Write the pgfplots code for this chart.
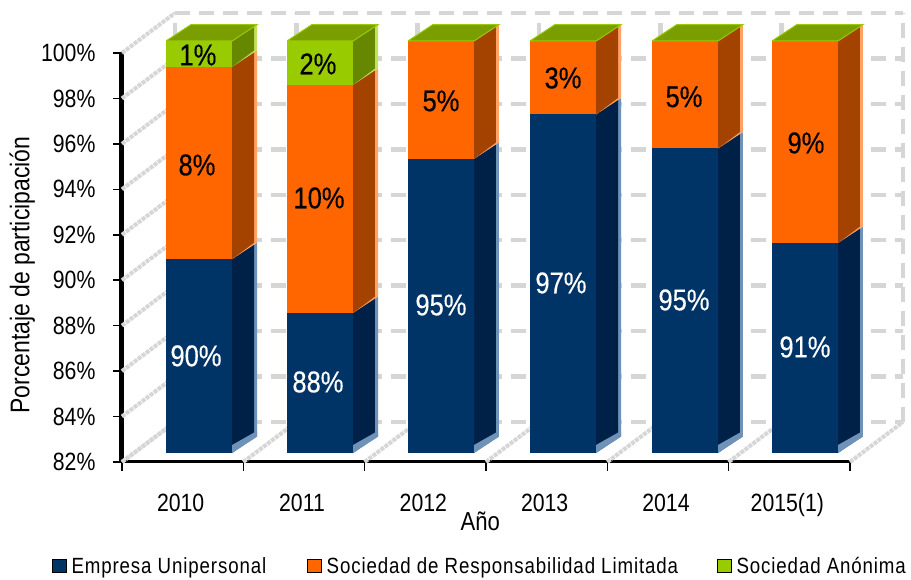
\documentclass[border=0pt]{standalone}
\usepackage{fontspec}
\setmainfont{Liberation Sans}
\newfontfamily\narrow[FakeStretch=0.85]{Liberation Sans}
\newfontfamily\narrowb[FakeStretch=0.85,FakeBold=0.4]{Liberation Sans}
\newfontfamily\legfont[FakeStretch=0.85,LetterSpace=4]{Liberation Sans}
\usepackage{pgfplots}
\pgfplotsset{compat=1.18}
\definecolor{nvF}{HTML}{003366}
\definecolor{nvS}{HTML}{002147}
\definecolor{nvE}{HTML}{6F93B8}
\definecolor{orF}{HTML}{FF6600}
\definecolor{orS}{HTML}{A44200}
\definecolor{orE}{HTML}{FFA366}
\definecolor{grF}{HTML}{99CC00}
\definecolor{grS}{HTML}{668800}
\definecolor{grE}{HTML}{C2E05A}
\definecolor{grT}{HTML}{7A9E00}
\definecolor{wallc}{HTML}{D6D6D6}

% bar geometry, axis units
\def\bw{0.545}
\def\dx{0.205}
\def\dy{0.72}

% #1 left edge, #2 bottom, #3 top, #4 colour prefix
\newcommand\seg[4]{%
  \pgfmathsetmacro\xR{#1+\bw}%
  \pgfmathsetmacro\xB{#1+\bw+\dx}%
  \pgfmathsetmacro\xC{#1+\bw+\dx-0.025}%
  \pgfmathsetmacro\yA{#2+\dy}%
  \pgfmathsetmacro\yB{#3+\dy}%
  \addplot[forget plot,fill=#4F,draw=none] coordinates {(#1,#2)(\xR,#2)(\xR,#3)(#1,#3)};
  \addplot[forget plot,fill=#4E,draw=none] coordinates {(\xR,#2)(\xB,\yA)(\xB,\yB)(\xR,#3)};
  \addplot[forget plot,fill=#4S,draw=none] coordinates {(\xR,#2)(\xC,\yA)(\xC,\yB)(\xR,#3)};
}
% lighter wedge at the foot of the side face
\newcommand\foot[2]{%
  \pgfmathsetmacro\xR{#1+\bw}%
  \pgfmathsetmacro\xB{#1+\bw+\dx}%
  \pgfmathsetmacro\yA{#2+\dy}%
  \pgfmathsetmacro\yB{#2+\dy+0.25}%
  \pgfmathsetmacro\yC{#2+0.35}%
  \addplot[forget plot,fill=nvE,draw=none] coordinates {(\xR,#2)(\xB,\yA)(\xB,\yB)(\xR,\yC)};
}
% top face
\newcommand\topf[2]{%
  \pgfmathsetmacro\xR{#1+\bw}%
  \pgfmathsetmacro\xA{#1+\dx}%
  \pgfmathsetmacro\xB{#1+\bw+\dx}%
  \pgfmathsetmacro\yB{#2+\dy}%
  \addplot[forget plot,fill=grT,draw=grF,line width=1pt] coordinates {(#1,#2)(\xR,#2)(\xB,\yB)(\xA,\yB)(#1,#2)};
}

\pgfplotstableread{
x     y      label
0.110 86.67  90\%
1.115 85.52  88\%
2.129 88.91  95\%
3.118 89.88  97\%
4.132 89.13  95\%
5.129 87.06  91\%
}\whitelabels
\pgfplotstableread{
x     y      label
0.118 95.07  8\%
0.126 99.91  1\%
1.124 93.62  10\%
1.115 99.52  2\%
2.129 97.89  5\%
3.135 98.90  3\%
4.132 98.07  5\%
5.137 96.04  9\%
}\blacklabels

\begin{document}
\begin{tikzpicture}[x=1pt,y=1pt]
\useasboundingbox (0,0) rectangle (911,580);
\begin{axis}[
  at={(122pt,118pt)},anchor=south west,
  scale only axis,width=728pt,height=409pt,
  xmin=-0.5,xmax=5.5,ymin=82,ymax=100,
  clip=false,enlargelimits=false,
  axis x line=bottom,axis y line=left,
  x axis line style={-,line width=3pt},
  y axis line style={-,line width=5pt},
  xtick={0,1,2,3,4,5},
  xticklabels={2010,2011,2012,2013,2014,2015(1)},
  minor xtick={-0.5,0.5,1.5,2.5,3.5,4.5,5.5},
  ytick={82,84,86,88,90,92,94,96,98,100},
  yticklabels={82\%,84\%,86\%,88\%,90\%,92\%,94\%,96\%,98\%,100\%},
  tick align=outside,
  major tick length=9pt,minor tick length=9pt,
  tick style={black,line width=1.5pt},
  major x tick style={draw=none},
  xticklabel style={font=\narrow\fontsize{25}{25}\selectfont,anchor=base,yshift=-41pt,xshift=-2pt},
  yticklabel style={font=\narrow\fontsize{25}{25}\selectfont,anchor=east,xshift=-14pt},
  xlabel={Año},
  xlabel style={font=\narrow\fontsize{26}{26}\selectfont,at={(axis description cs:0.492,-0.144)},anchor=center},
  ylabel={Porcentaje de participación},
  ylabel style={font=\narrow\fontsize{27}{27}\selectfont,at={(axis description cs:-0.137,0.457)},anchor=center},
  legend style={at={(axis description cs:-0.096,-0.254)},anchor=west,draw=none,fill=none,
    inner sep=0pt,outer sep=0pt,
    font=\legfont\fontsize{22}{22}\selectfont},
  legend columns=3,legend cell align=left,
  legend image code/.code={\fill[#1] (0pt,-6.5pt) rectangle (14pt,6.5pt);},
  no markers,
]
% back wall and floor
\pgfplotsset{wall/.style={forget plot,wallc,line width=4.5pt,dash pattern=on 15pt off 9pt},
             side/.style={forget plot,wallc,line width=4pt,dash pattern=on 4pt off 1pt}}
\pgfplotsinvokeforeach{82,84,86,88,90,92,94,96,98,100}{
  \pgfmathsetmacro\yw{#1+1.76}
  \addplot[side] coordinates {(-0.5,#1)(-0.063,\yw)};
  \addplot[wall] coordinates {(-0.063,\yw)(5.937,\yw)};
}
\pgfplotsinvokeforeach{-0.5,0.5,1.5,2.5,3.5,4.5,5.5}{
  \pgfmathsetmacro\xw{#1+0.437}
  \addplot[side] coordinates {(#1,82)(\xw,83.76)};
  \addplot[wall] coordinates {(\xw,83.76)(\xw,101.76)};
}
% bars, values are the front faces
\seg{-0.137}{82.40}{90.93}{nv}\foot{-0.137}{82.40}
\seg{-0.137}{90.93}{99.39}{or}
\seg{-0.137}{99.39}{100.53}{gr}
\topf{-0.137}{100.53}
\seg{0.860}{82.40}{88.56}{nv}\foot{0.860}{82.40}
\seg{0.860}{88.56}{98.60}{or}
\seg{0.860}{98.60}{100.53}{gr}
\topf{0.860}{100.53}
\seg{1.857}{82.40}{95.34}{nv}\foot{1.857}{82.40}
\seg{1.857}{95.34}{100.53}{or}
\topf{1.857}{100.53}
\seg{2.863}{82.40}{97.30}{nv}\foot{2.863}{82.40}
\seg{2.863}{97.30}{100.53}{or}
\topf{2.863}{100.53}
\seg{3.868}{82.40}{95.80}{nv}\foot{3.868}{82.40}
\seg{3.868}{95.80}{100.53}{or}
\topf{3.868}{100.53}
\seg{4.857}{82.40}{91.64}{nv}\foot{4.857}{82.40}
\seg{4.857}{91.64}{100.53}{or}
\topf{4.857}{100.53}
% data labels
\addplot[forget plot,draw=none,point meta=explicit symbolic,nodes near coords,
  every node near coord/.style={anchor=center,white,inner sep=0pt,font=\narrowb\fontsize{30}{30}\selectfont}]
  table[x=x,y=y,meta=label] {\whitelabels};
\addplot[forget plot,draw=none,point meta=explicit symbolic,nodes near coords,
  every node near coord/.style={anchor=center,black,inner sep=0pt,font=\narrowb\fontsize{30}{30}\selectfont}]
  table[x=x,y=y,meta=label] {\blacklabels};
% legend
\addlegendimage{fill=nvF}
\addlegendentry{\hspace*{3pt}Empresa Unipersonal\hspace*{39pt}}
\addlegendimage{fill=orF}
\addlegendentry{\hspace*{3pt}Sociedad de Responsabilidad Limitada\hspace*{37pt}}
\addlegendimage{fill=grF}
\addlegendentry{\hspace*{3pt}Sociedad Anónima}
\end{axis}
\end{tikzpicture}
\end{document}
